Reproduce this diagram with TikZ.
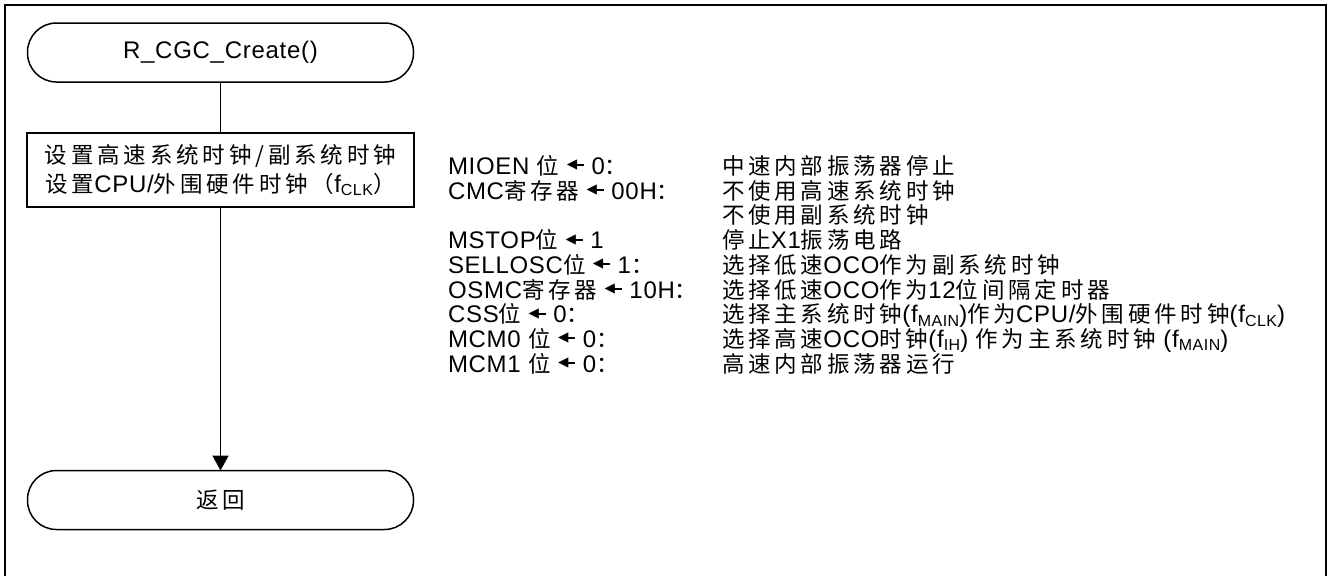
\documentclass[tikz,border=0pt]{standalone}
\usepackage{fontspec}
\setmainfont{Liberation Sans}[LetterSpace=3]
\newfontfamily\cjk{Noto Sans CJK SC}[LetterSpace=17]
\newfontfamily\djv{DejaVu Sans}
\usetikzlibrary{arrows.meta}
\newcommand\zh[1]{{\cjk\fontsize{22.5}{28}\selectfont #1}}
\newcommand\sbs[1]{\raisebox{-0.3ex}{\fontsize{16}{16}\selectfont #1}}
\newsavebox\trbox
\newcommand\larr{\sbox\trbox{\djv\fontsize{13.5}{13.5}\selectfont ◀}\mbox{\raisebox{\dimexpr 8.6pt-0.5\ht\trbox+0.5\dp\trbox\relax}{\usebox\trbox}\kern-3pt\rule[7.6pt]{10pt}{2pt}}}
\tikzset{
  x=1pt, y=-1pt,
  every node/.style={font=\fontsize{24}{28}\selectfont, inner sep=0pt, outer sep=0pt},
  term/.style={draw, line width=1.5pt, rounded corners=29pt, minimum width=386pt, minimum height=59pt},
  proc/.style={draw, line width=1.5pt, minimum width=387pt, minimum height=74pt, align=center},
  row/.style={anchor=base west},
  flow/.style={line width=1.5pt},
}
\begin{document}
\begin{tikzpicture}
\useasboundingbox (0,0) rectangle (1328,576);
\draw[line width=2.5pt] (5,576) -- (5,5) -- (1326,5) -- (1326,576);
\node[term] (start) at (220.5,52.5) {R\_CGC\_Create()};
\node[proc] (setup) at (220.5,170) {\zh{设置高速系统时钟/副系统时钟}\\[1pt]\zh{设置}CPU/\zh{外围硬件时钟（}f\sbs{CLK}\zh{）}};
\node[term] (ret) at (220.5,500) {\zh{返回}};
\draw[flow] (start) -- (setup);
\draw[flow, -{Triangle[width=16pt,length=15pt]}] (setup) -- (ret);
% left column
\node[row] (l1) at (448,174) {MIOEN \zh{位} \larr{} 0\zh{：}};
\node[row] (l2) at (448,199) {CMC\zh{寄存器} \larr{} 00H\zh{：}};
\node[row] (l4) at (448,248.5) {MSTOP\zh{位} \larr{} 1};
\node[row] (l5) at (448,273) {SELLOSC\zh{位} \larr{} 1\zh{：}};
\node[row] (l6) at (448,298) {OSMC\zh{寄存器} \larr{} 10H\zh{：}};
\node[row] (l7) at (448,322.5) {CSS\zh{位} \larr{} 0\zh{：}};
\node[row] (l8) at (448,347) {MCM0 \zh{位} \larr{} 0\zh{：}};
\node[row] (l9) at (448,372) {MCM1 \zh{位} \larr{} 0\zh{：}};
% right column
\node[row] (r1) at (722,174) {\zh{中速内部振荡器停止}};
\node[row] (r2) at (722,199) {\zh{不使用高速系统时钟}};
\node[row] (r3) at (722,223.5) {\zh{不使用副系统时钟}};
\node[row] (r4) at (722,248.5) {\zh{停止}X1\zh{振荡电路}};
\node[row] (r5) at (722,273) {\zh{选择低速}OCO\zh{作为副系统时钟}};
\node[row] (r6) at (722,298) {\zh{选择低速}OCO\zh{作为}12\zh{位间隔定时器}};
\node[row] (r7) at (722,322.5) {\zh{选择主系统时钟}(f\sbs{MAIN})\zh{作为}CPU/\zh{外围硬件时钟}(f\sbs{CLK})};
\node[row] (r8) at (722,347) {\zh{选择高速}OCO\zh{时钟}(f\sbs{IH}) \zh{作为主系统时钟} (f\sbs{MAIN})};
\node[row] (r9) at (722,372) {\zh{高速内部振荡器运行}};
\end{tikzpicture}
\end{document}
